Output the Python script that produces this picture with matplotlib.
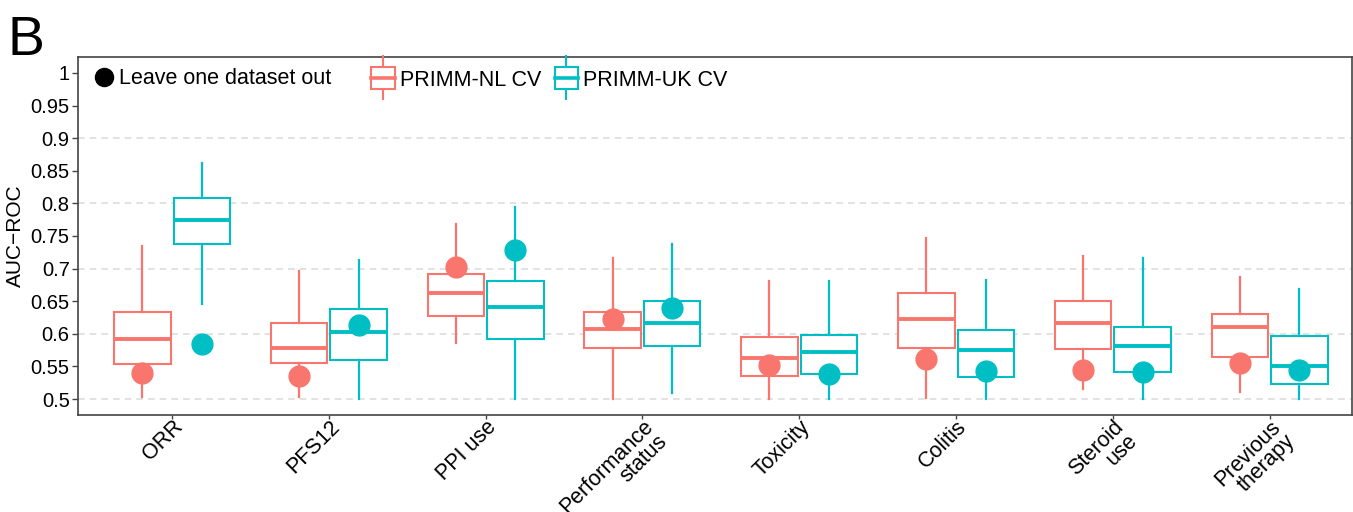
import matplotlib
matplotlib.use("Agg")
import matplotlib.pyplot as plt
from matplotlib.legend_handler import HandlerBase
from matplotlib.lines import Line2D
from matplotlib.patches import Rectangle, Patch

plt.rcParams['font.family'] = ['Liberation Sans', 'DejaVu Sans']

categories = ["ORR", "PFS12", "PPI use", "Performance\nstatus", "Toxicity",
              "Colitis", "Steroid\nuse", "Previous\ntherapy"]

# box stats per category: whisker low, q1, median, q3, whisker high
nl_wlo = [0.503, 0.503, 0.586, 0.500, 0.500, 0.502, 0.516, 0.511]
nl_q1 = [0.553, 0.555, 0.628, 0.578, 0.536, 0.579, 0.577, 0.565]
nl_med = [0.592, 0.578, 0.662, 0.607, 0.563, 0.623, 0.617, 0.610]
nl_q3 = [0.633, 0.616, 0.691, 0.634, 0.595, 0.663, 0.650, 0.631]
nl_whi = [0.734, 0.696, 0.768, 0.717, 0.681, 0.747, 0.719, 0.687]

uk_wlo = [0.646, 0.500, 0.500, 0.510, 0.500, 0.500, 0.500, 0.500]
uk_q1 = [0.738, 0.560, 0.592, 0.582, 0.539, 0.534, 0.541, 0.523]
uk_med = [0.775, 0.603, 0.641, 0.616, 0.572, 0.575, 0.581, 0.550]
uk_q3 = [0.809, 0.638, 0.681, 0.651, 0.598, 0.606, 0.611, 0.597]
uk_whi = [0.862, 0.713, 0.794, 0.738, 0.681, 0.682, 0.717, 0.668]

# leave one dataset out
nl_lodo = [0.540, 0.536, 0.702, 0.622, 0.552, 0.561, 0.544, 0.555]
uk_lodo = [0.585, 0.614, 0.728, 0.640, 0.538, 0.543, 0.542, 0.545]

NL_COL = "#F8766D"
UK_COL = "#00BFC4"

W, H = 1353, 512
fig = plt.figure(figsize=(W / 100, H / 100), dpi=100)
ax = fig.add_axes([78 / W, 1 - 415 / H, (1352 - 78) / W, (415 - 57) / H])

offset = 0.19
width = 0.36


def draw_boxes(pos, wlo, q1, med, q3, whi, color):
    stats = []
    for i in range(len(pos)):
        stats.append(dict(whislo=wlo[i], q1=q1[i], med=med[i], q3=q3[i], whishi=whi[i]))
    ax.bxp(stats, positions=pos, widths=width, showfliers=False, showcaps=False,
           patch_artist=True,
           boxprops=dict(facecolor="white", edgecolor=color, linewidth=1.5),
           medianprops=dict(color=color, linewidth=2.8, solid_capstyle="butt"),
           whiskerprops=dict(color=color, linewidth=1.6), manage_ticks=False)


xs = list(range(1, len(categories) + 1))
nl_x = [x - offset for x in xs]
uk_x = [x + offset for x in xs]
draw_boxes(nl_x, nl_wlo, nl_q1, nl_med, nl_q3, nl_whi, NL_COL)
draw_boxes(uk_x, uk_wlo, uk_q1, uk_med, uk_q3, uk_whi, UK_COL)
ax.plot(nl_x, nl_lodo, "o", color=NL_COL, markersize=15, zorder=5)
ax.plot(uk_x, uk_lodo, "o", color=UK_COL, markersize=15, zorder=5)

ax.set_xlim(0.4, 8.525)
ax.set_ylim(0.4755, 1.0245)
ax.set_xticks(xs)
ax.set_xticklabels(categories, rotation=45, ha="right", rotation_mode="anchor",
                   multialignment="right", linespacing=0.95, fontsize=15.5)
yt = [0.5, 0.55, 0.6, 0.65, 0.7, 0.75, 0.8, 0.85, 0.9, 0.95, 1.0]
ax.set_yticks(yt)
ax.set_yticklabels(["0.5", "0.55", "0.6", "0.65", "0.7", "0.75", "0.8", "0.85",
                    "0.9", "0.95", "1"], fontsize=14.5)
for g in [0.5, 0.6, 0.7, 0.8, 0.9]:
    ax.axhline(g, color="#dddddd", linestyle=(0, (4, 3)), linewidth=1.2, zorder=0)
ax.tick_params(axis="both", color="#444444", width=1)
ax.tick_params(axis="y", length=4, pad=2)
ax.tick_params(axis="x", length=3, pad=-2)
for s in ax.spines.values():
    s.set_color("#444444")
    s.set_linewidth(1.2)
ax.set_ylabel("AUC\u2212ROC", fontsize=15, labelpad=4)


class BoxHandler(HandlerBase):
    def __init__(self, color):
        super().__init__()
        self.color = color

    def create_artists(self, legend, orig_handle, xdescent, ydescent, width, height,
                       fontsize, trans):
        cx = width / 2 - xdescent
        cy = height / 2 - ydescent
        bw = 17
        bh = 16
        wh = 15.5
        box = Rectangle((cx - bw / 2, cy - bh / 2), bw, bh, facecolor="white",
                        edgecolor=self.color, linewidth=1.5, transform=trans)
        w1 = Line2D([cx, cx], [cy + bh / 2, cy + wh], color=self.color, lw=1.5, transform=trans)
        w2 = Line2D([cx, cx], [cy - bh / 2, cy - wh], color=self.color, lw=1.5, transform=trans)
        m = Line2D([cx - bw / 2, cx + bw / 2], [cy, cy], color=self.color, lw=2.6, transform=trans)
        return [w1, w2, box, m]


# legend for the dots
h_dot = Line2D([], [], marker="o", color="black", linestyle="none", markersize=13)
leg1 = ax.legend([h_dot], ["Leave one dataset out"], loc="center left",
                 bbox_to_anchor=(92 / W, 1 - 79 / H), bbox_transform=fig.transFigure,
                 frameon=False, fontsize=15.5, handlelength=1.12, handletextpad=0.15,
                 borderpad=0, borderaxespad=0)
ax.add_artist(leg1)

# legend for the cross-validation boxes
h_nl = Patch()
h_uk = Patch()
ax.legend([h_nl, h_uk], ["PRIMM-NL CV", "PRIMM-UK CV"],
          handler_map={h_nl: BoxHandler(NL_COL), h_uk: BoxHandler(UK_COL)},
          ncol=2, loc="center left", bbox_to_anchor=(371 / W, 1 - 80 / H),
          bbox_transform=fig.transFigure, frameon=False, fontsize=15.5,
          handlelength=1.12, handletextpad=0.23, columnspacing=0.6,
          borderpad=0, borderaxespad=0)

fig.text(8 / W, 1 - 55 / H, "B", fontsize=40, ha="left", va="baseline")

fig.savefig("out.png", dpi=100)
